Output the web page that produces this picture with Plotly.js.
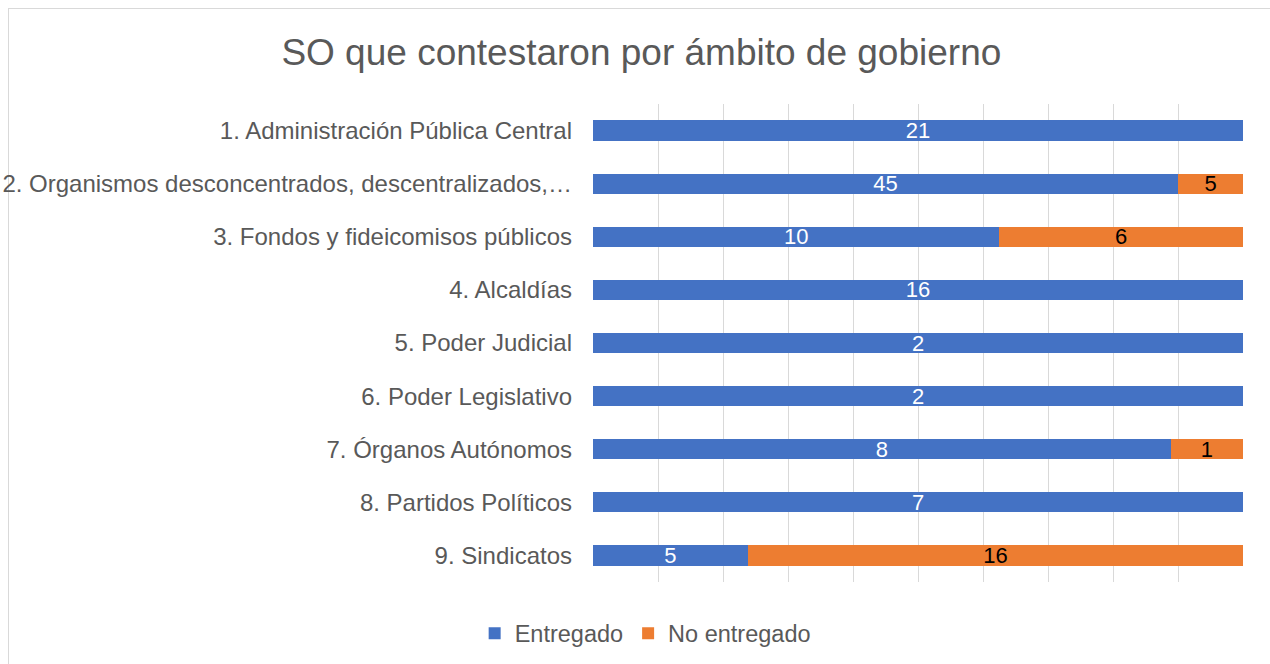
<!DOCTYPE html>
<html>
<head>
<meta charset="utf-8">
<script src="https://cdn.plot.ly/plotly-3.0.1.min.js"></script>
<style>
  html, body { margin: 0; padding: 0; background: #fff; }
  #frame { position: absolute; left: 8px; top: 8px; width: 1270px; height: 670px; border: 1px solid #d9d9d9; box-sizing: border-box; }
  #chart { position: absolute; left: 0; top: 0; width: 1270px; height: 664px; }
</style>
</head>
<body>
<div id="frame"></div>
<div id="chart"></div>
<script>
const categories = [
  "1. Administración Pública Central",
  "2. Organismos desconcentrados, descentralizados,…",
  "3. Fondos y fideicomisos públicos",
  "4. Alcaldías",
  "5. Poder Judicial",
  "6. Poder Legislativo",
  "7. Órganos Autónomos",
  "8. Partidos Políticos",
  "9. Sindicatos"
];
const entregado = [21, 45, 10, 16, 2, 2, 8, 7, 5];
const noEntregado = [0, 5, 6, 0, 0, 0, 1, 0, 16];
const seriesNames = ["Entregado", "No entregado"];

const font = "Arial, 'Liberation Sans', sans-serif";
const lbl = v => v.map(x => x === 0 ? "" : String(x));

const traces = [
  {
    type: "bar", orientation: "h", name: seriesNames[0],
    y: categories, x: entregado, text: lbl(entregado),
    marker: { color: "#4472c4" },
    textposition: "inside", insidetextanchor: "middle", textangle: 0,
    constraintext: "none",
    insidetextfont: { color: "#ffffff", size: 22, family: font },
    hoverinfo: "x+y"
  },
  {
    type: "bar", orientation: "h", name: seriesNames[1],
    y: categories, x: noEntregado, text: lbl(noEntregado),
    marker: { color: "#ed7d31" },
    textposition: "inside", insidetextanchor: "middle", textangle: 0,
    constraintext: "none",
    insidetextfont: { color: "#000000", size: 22, family: font },
    hoverinfo: "x+y"
  }
];

const layout = {
  width: 1270, height: 664,
  paper_bgcolor: "rgba(0,0,0,0)", plot_bgcolor: "rgba(0,0,0,0)",
  barmode: "stack", barnorm: "percent", bargap: 0.62,
  margin: { l: 593, r: 27, t: 104, b: 82 },
  font: { family: font, color: "#595959", size: 23.5 },
  title: {
    text: "SO que contestaron por ámbito de gobierno",
    font: { family: font, size: 37, color: "#595959" },
    x: 0.505, xref: "container", xanchor: "center",
    y: 0.922, yref: "container", yanchor: "middle"
  },
  xaxis: {
    range: [0, 100], dtick: 10, showticklabels: false,
    showgrid: true, gridcolor: "#d9d9d9", gridwidth: 1,
    zeroline: false, showline: false, fixedrange: true
  },
  yaxis: {
    autorange: "reversed", showgrid: false, zeroline: false, showline: false,
    ticks: "", ticklabelstandoff: 20,
    tickfont: { family: font, size: 24, color: "#595959" },
    fixedrange: true
  },
  showlegend: true,
  legend: {
    orientation: "h", xref: "container", yref: "container",
    x: 0.508, xanchor: "center", y: 0.046, yanchor: "middle",
    font: { family: font, size: 23.5, color: "#595959" },
    itemwidth: 30, traceorder: "normal"
  }
};

Plotly.newPlot("chart", traces, layout, { displayModeBar: false, staticPlot: true });
</script>
</body>
</html>
